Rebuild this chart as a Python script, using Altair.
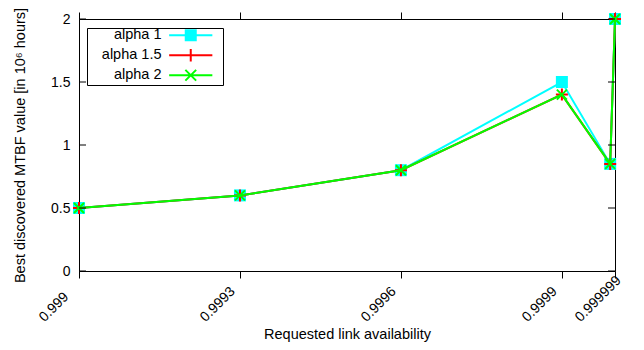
import altair as alt
import pandas as pd

availability = [0.999, 0.9993, 0.9996, 0.9999, 0.99999, 0.999999]
alpha_1 = [0.5, 0.6, 0.8, 1.5, 0.85, 2.0]
alpha_15 = [0.5, 0.6, 0.8, 1.4, 0.85, 2.0]
alpha_2 = [0.5, 0.6, 0.8, 1.4, 0.85, 2.0]
series_names = ["alpha 1", "alpha 1.5", "alpha 2"]
series_colors = ["#00ffff", "#ff0000", "#00ff00"]
x_ticks = [0.999, 0.9993, 0.9996, 0.9999, 0.999999]
y_ticks = [0, 0.5, 1, 1.5, 2]

rows = []
for name, vals in zip(series_names, [alpha_1, alpha_15, alpha_2]):
    for a, v in zip(availability, vals):
        rows.append({"availability": a, "mtbf": v, "series": name})
df = pd.DataFrame(rows)
df_yt = pd.DataFrame({"v": y_ticks})

FONT = "Liberation Sans"
W, H = 536, 252

xs = alt.Scale(domain=[0.999, 0.999999], nice=False, zero=False)
ys = alt.Scale(domain=[0, 2], nice=False, zero=False)
cs = alt.Scale(domain=series_names, range=series_colors)

x_bottom = alt.Axis(orient="bottom", values=x_ticks, format=".7~g", labelAngle=315,
                    labelAlign="left", labelBaseline="alphabetic", tickSize=7,
                    labelPadding=44, labelOffset=alt.ExprRef(expr="-35"),
                    grid=False, title="Requested link availability", titleY=56)
x_top = alt.Axis(orient="top", values=x_ticks, labels=False, tickSize=7, domain=False,
                 grid=False, title=None)
y_left = alt.Axis(orient="left", values=y_ticks, format=".3~g", ticks=False, labelPadding=9,
                  grid=False, title="Best discovered MTBF value [in 10\u2076 hours]",
                  titleX=-59, titleBaseline="middle")

sq_fill = "".join(f"M-1,{y}H1" for y in [-0.83, -0.5, -0.17, 0.17, 0.5, 0.83])
pad_pt = "M4.6,0h0"
legend_paths = [
    "M-3.6,0H3.6" + sq_fill + pad_pt,
    "M-3.6,0H3.6M0,-1.05V1.05" + pad_pt,
    "M-3.6,0H3.6M-0.9,-0.9L0.9,0.9M-0.9,0.9L0.9,-0.9" + pad_pt,
]
marker_specs = [
    dict(shape="square", filled=True, size=144),
    dict(shape="M-1,0H1M0,-1V1", filled=False, size=144, strokeWidth=2),
    dict(shape="M-1,-1L1,1M-1,1L1,-1", filled=False, size=100, strokeWidth=2),
]

layers = []
base = alt.Chart(df)
for i, (name, col) in enumerate(zip(series_names, series_colors)):
    sub = base.transform_filter(alt.datum.series == name)
    line = sub.mark_line(strokeWidth=2, color=col).encode(
        x=alt.X("availability:Q", scale=xs, axis=x_bottom if i == 0 else None),
        y=alt.Y("mtbf:Q", scale=ys, axis=y_left),
    )
    pts = sub.mark_point(color=col, opacity=1, **marker_specs[i]).encode(
        x=alt.X("availability:Q", scale=xs, axis=x_top if i == 0 else None),
        y=alt.Y("mtbf:Q", scale=ys, axis=y_left),
    )
    layers += [line, pts]

legend_layer = base.transform_filter("false").mark_point(
    filled=False, opacity=1, strokeWidth=2, size=144
).encode(
    color=alt.Color("series:N", scale=cs, legend=alt.Legend(title=None)),
    shape=alt.Shape("series:N", scale=alt.Scale(domain=series_names, range=legend_paths),
                    legend=alt.Legend(title=None)),
)
layers.append(legend_layer)

tick_l = alt.Chart(df_yt).mark_rule(color="black", strokeWidth=1).encode(
    y=alt.Y("v:Q", scale=ys, axis=y_left), x=alt.value(0), x2=alt.value(7))
tick_r = alt.Chart(df_yt).mark_rule(color="black", strokeWidth=1).encode(
    y=alt.Y("v:Q", scale=ys, axis=y_left), x=alt.value(W - 7), x2=alt.value(W))
layers += [tick_l, tick_r]

chart = alt.layer(*layers).properties(
    width=W, height=H,
    autosize=alt.AutoSizeParams(type="none"),
    padding={"left": 79, "top": 19, "right": 29, "bottom": 79},
).configure_view(stroke="black", strokeWidth=1).configure_axis(
    labelFont=FONT, titleFont=FONT, labelFontSize=14, titleFontSize=14.5,
    titleFontWeight="normal", labelColor="black", titleColor="black",
    tickColor="black", domainColor="black", grid=False,
).configure_legend(
    orient="none", legendX=8, legendY=9, padding=0, strokeColor="black",
    fillColor="white", labelFont=FONT, labelFontSize=14.5, labelColor="black",
    labelAlign="right", labelOffset=alt.ExprRef(expr="-36.5"), symbolOffset=96.5,
    symbolSize=144, symbolStrokeWidth=2, rowPadding=alt.ExprRef(expr="-1"),
)

chart.save("out.html", embed_options={"renderer": "svg", "actions": False})
